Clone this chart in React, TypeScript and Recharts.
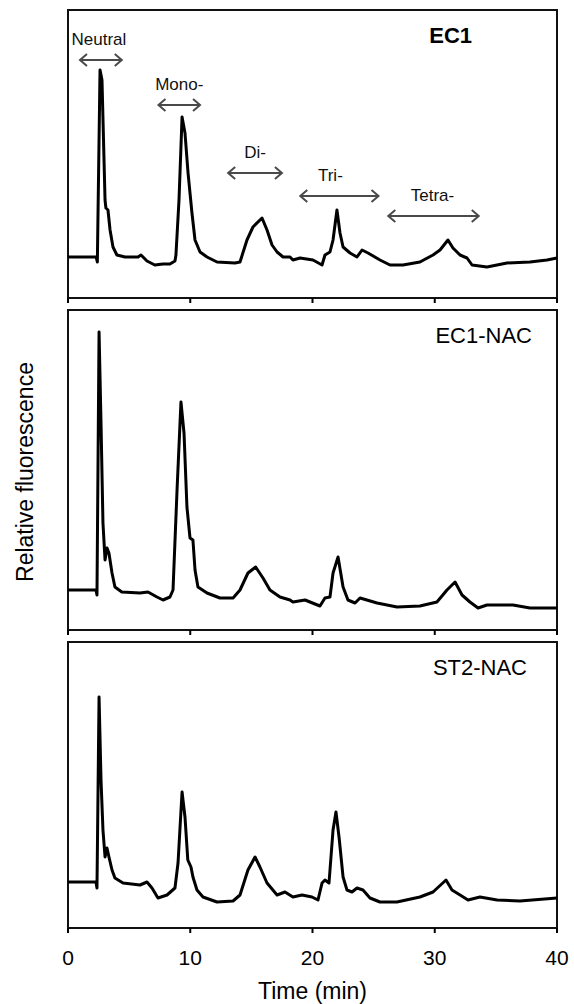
import React from 'react';
import { LineChart, Line, XAxis, YAxis, ReferenceArea, ReferenceLine } from 'recharts';

// retention time (min) / relative fluorescence (a.u.)
const EC1_TRACE: [number, number][] = [
  [0, 41], [2.3, 41], [2.4, 36], [2.62, 228], [2.78, 218], [3.03, 98], [3.1, 90], [3.27, 88],
  [3.44, 68], [3.68, 51], [4.0, 43], [4.66, 41], [5.73, 41], [5.97, 43], [6.46, 37], [7.1, 33],
  [7.77, 34], [8.34, 34], [8.75, 37], [8.83, 43], [9.08, 98], [9.33, 181], [9.57, 165], [9.82, 125],
  [10.14, 85], [10.39, 58], [10.8, 46], [11.37, 41], [12.19, 36], [13.66, 35], [14.07, 36], [14.64, 58],
  [15.13, 71], [15.87, 80], [16.28, 68], [16.69, 53], [17.1, 46], [17.59, 41], [18.16, 41], [18.4, 38],
  [18.98, 40], [20.04, 38], [20.78, 33], [21.02, 43], [21.43, 46], [21.68, 58], [22.0, 88], [22.25, 65],
  [22.5, 51], [23.07, 45], [23.64, 41], [24.05, 48], [24.54, 45], [25.52, 38], [26.34, 33], [27.4, 33],
  [28.79, 36], [29.86, 43], [30.43, 48], [31.08, 58], [31.49, 50], [32.07, 43], [32.64, 40], [33.05, 33],
  [34.27, 31], [35.91, 35], [37.79, 36], [39.18, 38], [40, 40],
];

const EC1_NAC_TRACE: [number, number][] = [
  [0, 40], [2.29, 40], [2.37, 35], [2.54, 298], [2.7, 207], [2.86, 107], [3.03, 70], [3.19, 82],
  [3.35, 77], [3.6, 57], [3.84, 43], [4.4, 38], [5.89, 37], [6.54, 38], [7.28, 33], [7.77, 30],
  [8.34, 33], [8.59, 40], [8.92, 140], [9.24, 228], [9.49, 197], [9.73, 123], [9.98, 92], [10.22, 90],
  [10.39, 60], [10.63, 43], [11.37, 37], [12.43, 32], [13.5, 32], [14.07, 40], [14.72, 57], [15.35, 63],
  [15.95, 52], [16.52, 40], [17.34, 33], [18.16, 30], [18.4, 28], [19.39, 30], [20.61, 24], [21.02, 32],
  [21.43, 33], [21.68, 57], [22.09, 73], [22.5, 43], [22.9, 30], [23.48, 27], [23.89, 32], [25.28, 27],
  [26.91, 23], [28.79, 24], [30.18, 28], [31.0, 40], [31.66, 48], [32.23, 35], [32.88, 28], [33.54, 22],
  [34.27, 25], [36.4, 25], [37.79, 22], [40, 22],
];

const ST2_NAC_TRACE: [number, number][] = [
  [0, 46], [2.29, 46], [2.37, 40], [2.54, 231], [2.7, 148], [2.86, 98], [3.03, 71], [3.19, 80],
  [3.35, 71], [3.6, 58], [3.84, 50], [4.5, 45], [5.89, 43], [6.46, 46], [6.87, 40], [7.36, 30],
  [8.1, 33], [8.75, 40], [9.0, 65], [9.33, 136], [9.57, 111], [9.8, 68], [10.06, 61], [10.22, 51],
  [10.55, 38], [11.04, 31], [12.19, 26], [13.5, 27], [14.07, 33], [14.72, 58], [15.3, 71], [15.7, 61],
  [16.28, 45], [17.1, 33], [17.75, 36], [18.4, 31], [19.14, 33], [19.96, 31], [20.45, 28], [20.78, 45],
  [21.02, 48], [21.35, 45], [21.68, 98], [21.92, 116], [22.17, 91], [22.5, 51], [22.82, 38], [23.23, 36],
  [23.64, 40], [24.13, 38], [24.7, 30], [25.52, 26], [26.91, 26], [28.79, 31], [29.86, 36], [30.92, 48],
  [31.41, 38], [32.07, 33], [32.72, 28], [33.7, 31], [35.1, 28], [36.97, 27], [40, 30],
];

const TIME_TICKS = [0, 10, 20, 30, 40];

// charge-state elution windows marked on the top panel
const FRACTIONS = [
  { label: 'Neutral', from: 0.98, to: 4.4, level: 238, shift: -2 },
  { label: 'Mono-', from: 7.4, to: 10.8, level: 193, shift: 0 },
  { label: 'Di-', from: 13.1, to: 17.5, level: 125, shift: 0 },
  { label: 'Tri-', from: 19.0, to: 25.4, level: 102, shift: -9 },
  { label: 'Tetra-', from: 26.2, to: 33.6, level: 82, shift: -1 },
];

const FONT = 'Arial, "Liberation Sans", Helvetica, sans-serif';

function RangeArrow(props: any) {
  const { x1, y1, x2, text, shift } = props;
  const h = 6;
  const c = '#4a4a4a';
  return (
    <g>
      <line x1={x1} y1={y1} x2={x2} y2={y1} stroke={c} strokeWidth={2} />
      <polyline points={`${x1 + h + 1},${y1 - h} ${x1},${y1} ${x1 + h + 1},${y1 + h}`} fill="none" stroke={c} strokeWidth={2} />
      <polyline points={`${x2 - h - 1},${y1 - h} ${x2},${y1} ${x2 - h - 1},${y1 + h}`} fill="none" stroke={c} strokeWidth={2} />
      <text x={(x1 + x2) / 2 + shift} y={y1 - 15} textAnchor="middle" fontSize={17} fontFamily={FONT} fill="#111">
        {text}
      </text>
    </g>
  );
}

interface PanelProps {
  trace: [number, number][];
  yMax: number;
  top: number;
  height: number;
  axisHeight: number;
  tag: string;
  tagBold?: boolean;
  tagInset: number;
  showLabels?: boolean;
  fractions?: typeof FRACTIONS;
}

function Panel({ trace, yMax, top, height, axisHeight, tag, tagBold, tagInset, showLabels, fractions }: PanelProps) {
  const data = trace.map(([t, f]) => ({ t, f }));
  return (
    <div style={{ position: 'absolute', left: 0, top }}>
      <LineChart width={574} height={height} data={data} margin={{ top: 10, right: 17, left: 68, bottom: 0 }}>
        <XAxis
          type="number"
          dataKey="t"
          domain={[0, 40]}
          ticks={TIME_TICKS}
          stroke="#000"
          axisLine={false}
          tickLine={{ stroke: '#000', strokeWidth: 2 }}
          tickSize={5}
          tickMargin={17}
          height={axisHeight}
          tick={showLabels ? { fill: '#000', fontSize: 21, fontFamily: FONT } : () => null}
          label={showLabels ? { value: 'Time (min)', position: 'insideBottom', offset: 5, fill: '#000', fontSize: 23, fontFamily: FONT } : undefined}
        />
        <YAxis hide type="number" domain={[0, yMax]} />
        <ReferenceArea
          x1={0}
          x2={40}
          y1={0}
          y2={yMax}
          fill="none"
          stroke="#111"
          strokeWidth={2}
          label={(p: any) => {
            const vb = p.viewBox;
            return (
              <text
                x={vb.x + vb.width - tagInset}
                y={vb.y + 33}
                textAnchor="end"
                fontSize={22}
                fontWeight={tagBold ? 'bold' : 'normal'}
                fontFamily={FONT}
                fill="#000"
              >
                {tag}
              </text>
            );
          }}
        />
        {(fractions || []).map((fr) => (
          <ReferenceLine
            key={fr.label}
            segment={[{ x: fr.from, y: fr.level }, { x: fr.to, y: fr.level }]}
            shape={(p: any) => <RangeArrow {...p} text={fr.label} shift={fr.shift} />}
          />
        ))}
        <Line
          type="linear"
          dataKey="f"
          stroke="#000"
          strokeWidth={3}
          strokeLinejoin="round"
          dot={false}
          activeDot={false}
          isAnimationActive={false}
        />
      </LineChart>
    </div>
  );
}

export default function App() {
  return (
    <div style={{ position: 'absolute', left: 0, top: 0, width: 574, height: 1004, background: '#fff', fontFamily: FONT }}>
      <Panel trace={EC1_TRACE} yMax={288} top={0} height={310} axisHeight={12} tag="EC1" tagBold tagInset={85} fractions={FRACTIONS} />
      <Panel trace={EC1_NAC_TRACE} yMax={320} top={300} height={342} axisHeight={12} tag="EC1-NAC" tagInset={25} />
      <Panel trace={ST2_NAC_TRACE} yMax={286} top={632} height={372} axisHeight={76} tag="ST2-NAC" tagInset={30} showLabels />
      <div
        style={{
          position: 'absolute',
          left: 25,
          top: 472,
          transform: 'translate(-50%, -50%) rotate(-90deg)',
          whiteSpace: 'nowrap',
          fontSize: 23,
          color: '#000',
        }}
      >
        Relative fluorescence
      </div>
    </div>
  );
}
